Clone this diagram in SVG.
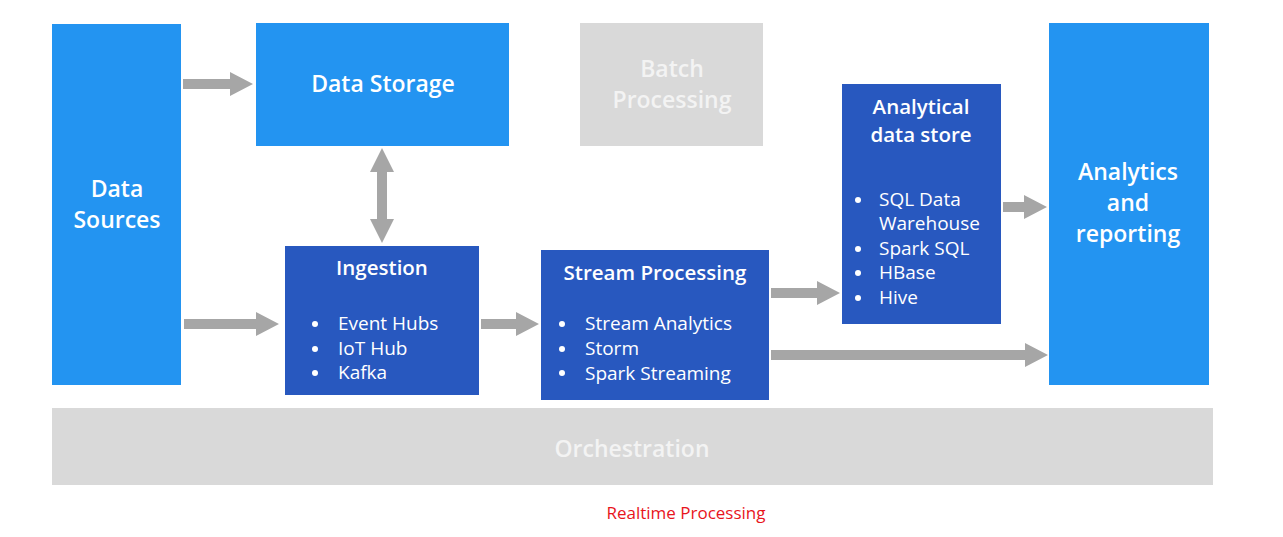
<svg xmlns="http://www.w3.org/2000/svg" width="1283" height="537" viewBox="0 0 1283 537">
<defs>
<style>
.light{fill:#2394f1}
.dark{fill:#2858bf}
.gray{fill:#d9d9d9}
.arrow{fill:#a6a6a6}
text{font-family:"Open Sans","Noto Sans","Liberation Sans",sans-serif}
.t{fill:#ffffff;font-size:23px;font-weight:600;text-anchor:middle}
.g{fill:#f3f3f3;font-size:23px;font-weight:600;text-anchor:middle}
.h{fill:#ffffff;font-size:20.5px;font-weight:600;text-anchor:middle}
.b{fill:#ffffff;font-size:19px}
.cap{fill:#e8141c;font-size:17px;text-anchor:middle}
</style>
</defs>
<rect width="1283" height="537" fill="#ffffff"/>

<g id="data-sources">
<rect class="light" x="52" y="24" width="129" height="361"/>
<text class="t" x="117" y="197">Data</text>
<text class="t" x="117" y="228">Sources</text>
</g>

<g id="data-storage">
<rect class="light" x="256" y="23" width="253" height="123"/>
<text class="t" x="383" y="92">Data Storage</text>
</g>

<g id="batch-processing">
<rect class="gray" x="580" y="23" width="183" height="123"/>
<text class="g" x="672" y="77">Batch</text>
<text class="g" x="672" y="108">Processing</text>
</g>

<g id="ingestion">
<rect class="dark" x="285" y="246" width="194" height="149"/>
<text class="h" x="382" y="275">Ingestion</text>
<circle cx="315" cy="324" r="3" fill="#fff"/>
<circle cx="315" cy="349" r="3" fill="#fff"/>
<circle cx="315" cy="373" r="3" fill="#fff"/>
<text class="b" x="338" y="330">Event Hubs</text>
<text class="b" x="338" y="355">IoT Hub</text>
<text class="b" x="338" y="379">Kafka</text>
</g>

<g id="stream-processing">
<rect class="dark" x="541" y="250" width="228" height="150"/>
<text class="h" x="655" y="280">Stream Processing</text>
<circle cx="562" cy="324" r="3" fill="#fff"/>
<circle cx="562" cy="349" r="3" fill="#fff"/>
<circle cx="562" cy="373" r="3" fill="#fff"/>
<text class="b" x="585" y="330">Stream Analytics</text>
<text class="b" x="585" y="355">Storm</text>
<text class="b" x="585" y="380">Spark Streaming</text>
</g>

<g id="analytical-data-store">
<rect class="dark" x="842" y="84" width="159" height="240"/>
<text class="h" x="921" y="114">Analytical</text>
<text class="h" x="921" y="142">data store</text>
<circle cx="858" cy="200" r="3" fill="#fff"/>
<circle cx="858" cy="249" r="3" fill="#fff"/>
<circle cx="858" cy="273" r="3" fill="#fff"/>
<circle cx="858" cy="298" r="3" fill="#fff"/>
<text class="b" x="879" y="206">SQL Data</text>
<text class="b" x="879" y="230">Warehouse</text>
<text class="b" x="879" y="255">Spark SQL</text>
<text class="b" x="879" y="279">HBase</text>
<text class="b" x="879" y="304">Hive</text>
</g>

<g id="analytics-reporting">
<rect class="light" x="1049" y="23" width="160" height="362"/>
<text class="t" x="1128" y="180">Analytics</text>
<text class="t" x="1128" y="211">and</text>
<text class="t" x="1128" y="242">reporting</text>
</g>

<g id="orchestration">
<rect class="gray" x="52" y="408" width="1161" height="77"/>
<text class="g" x="632" y="457">Orchestration</text>
</g>

<g id="connectors">
<polygon class="arrow" points="183,79 230,79 230,72 253,84 230,96 230,89 183,89"/>
<polygon class="arrow" points="184,319 256,319 256,312 279,324 256,336 256,329 184,329"/>
<polygon class="arrow" points="377,172 370,172 382,148 394,172 387,172 387,219 394,219 382,243 370,219 377,219"/>
<polygon class="arrow" points="481,319 516,319 516,312 539,324 516,336 516,329 481,329"/>
<polygon class="arrow" points="771,288 817,288 817,281 840,293 817,305 817,298 771,298"/>
<polygon class="arrow" points="771,350 1025,350 1025,343 1048,355 1025,367 1025,360 771,360"/>
<polygon class="arrow" points="1003,202 1024,202 1024,195 1047,207 1024,219 1024,212 1003,212"/>
</g>

<text class="cap" x="686" y="519">Realtime Processing</text>
</svg>
